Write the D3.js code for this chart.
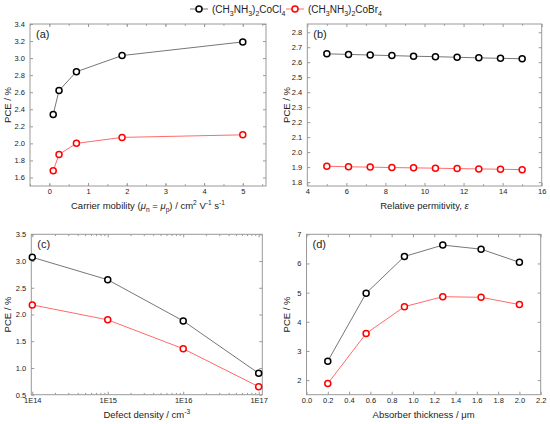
<!DOCTYPE html>
<html>
<head>
<meta charset="utf-8">
<script src="https://cdn.jsdelivr.net/npm/d3@7"></script>
<style>
  body { margin: 0; background: #fff; }
  text { font-family: "Liberation Sans", Arial, sans-serif; fill: #222; }
</style>
</head>
<body>
<div id="chart"></div>
<script>
// series names
const seriesNames = ["(CH3NH3)2CoCl4", "(CH3NH3)2CoBr4"];
const halides = ["Cl", "Br"];

// (a) carrier mobility
const mobility = [0.1, 0.25, 0.7, 1.88, 5];
const mobilityCl = [2.34, 2.62, 2.84, 3.03, 3.19];
const mobilityBr = [1.68, 1.87, 2.00, 2.07, 2.10];

// (b) relative permittivity
const permittivity = [5, 6.11, 7.22, 8.33, 9.44, 10.56, 11.67, 12.78, 13.89, 15];
const permittivityCl = [2.656, 2.652, 2.648, 2.644, 2.640, 2.637, 2.633, 2.629, 2.626, 2.623];
const permittivityBr = [1.906, 1.902, 1.900, 1.897, 1.895, 1.893, 1.890, 1.888, 1.886, 1.883];

// (c) defect density
const defect = [1e14, 1e15, 1e16, 1e17];
const defectCl = [3.07, 2.65, 1.88, 0.90];
const defectBr = [2.18, 1.90, 1.36, 0.65];
const defectTickLabels = ["1E14", "1E15", "1E16", "1E17"];

// (d) absorber thickness
const thickness = [0.2, 0.56, 0.92, 1.28, 1.64, 2.0];
const thicknessCl = [2.65, 4.98, 6.24, 6.63, 6.49, 6.04];
const thicknessBr = [1.88, 3.60, 4.52, 4.86, 4.84, 4.59];

const width = 550;
const height = 424;
const frameColor = "#999";
const lineColors = ["#777", "#ff6b6b"];
const markerColors = ["#000", "#ff0000"];

const svg = d3.select("#chart")
  .append("svg")
  .attr("width", width)
  .attr("height", height);

// draws text made of plain / sub / sup parts
function richText(g, parts, size) {
  let shift = 0;
  parts.forEach(p => {
    const s = p.sub ? 3 : p.sup ? -4 : 0;
    const ts = g.append("tspan")
      .attr("dy", s - shift)
      .style("font-size", (p.sub || p.sup) ? size * 0.7 + "px" : size + "px")
      .text(p.t);
    if (p.it) ts.style("font-style", "italic");
    shift = s;
  });
}

const panels = [
  {
    label: "(a)", x: [30, 266], y: [186, 24],
    xDomain: [-0.5, 5.6], yDomain: [1.5, 3.4],
    xTicks: d3.range(0, 6, 1), xMinor: d3.range(-0.5, 5.6, 0.5),
    yTicks: d3.range(1.6, 3.41, 0.2), yFmt: d3.format(".1f"), xFmt: d3.format("d"),
    xs: mobility, ys: [mobilityCl, mobilityBr],
    title: [{t: "Carrier mobility ("}, {t: "μ", it: true}, {t: "n", sub: true}, {t: " = "},
      {t: "μ", it: true}, {t: "p", sub: true}, {t: ") / cm"}, {t: "2", sup: true},
      {t: " V"}, {t: "-1", sup: true}, {t: " s"}, {t: "-1", sup: true}],
    ylabX: 8
  },
  {
    label: "(b)", x: [307.3, 541.7], y: [186, 24],
    xDomain: [4, 16], yDomain: [1.774, 2.855],
    xTicks: d3.range(4, 17, 2), xMinor: d3.range(5, 16, 2),
    yTicks: d3.range(1.8, 2.81, 0.1), yFmt: d3.format(".1f"), xFmt: d3.format("d"),
    xs: permittivity, ys: [permittivityCl, permittivityBr],
    title: [{t: "Relative permitivity, "}, {t: "ε", it: true}],
    ylabX: 287
  },
  {
    label: "(c)", x: [31.3, 262.3], y: [394.7, 234.3], log: true,
    xDomain: [Math.pow(10, 13.987), Math.pow(10, 17.048)], yDomain: [0.5, 3.5],
    xTicks: defect, yTicks: d3.range(0.5, 3.51, 0.5), yFmt: d3.format(".1f"),
    xFmt: d => defectTickLabels[defect.indexOf(d)],
    xs: defect, ys: [defectCl, defectBr],
    title: [{t: "Defect density / cm"}, {t: "-3", sup: true}],
    ylabX: 8
  },
  {
    label: "(d)", x: [306.5, 540.7], y: [394.7, 234.3],
    xDomain: [0, 2.2], yDomain: [1.5, 7],
    xTicks: d3.range(0, 2.21, 0.2), xMinor: [],
    yTicks: d3.range(2, 7.1, 1), yFmt: d3.format("d"), xFmt: d3.format(".1f"),
    xs: thickness, ys: [thicknessCl, thicknessBr],
    title: [{t: "Absorber thickness / μm"}],
    ylabX: 287
  }
];

panels.forEach(p => {
  const x = (p.log ? d3.scaleLog() : d3.scaleLinear()).domain(p.xDomain).range(p.x);
  const y = d3.scaleLinear().domain(p.yDomain).range(p.y);
  const g = svg.append("g");

  let minor = p.xMinor || [];
  if (p.log) {
    minor = [];
    for (let e = 14; e < 17; e++) for (let m = 2; m < 10; m++) minor.push(m * Math.pow(10, e));
  }

  // inward ticks, mirrored on all four sides
  const bottom = d3.axisBottom(x).tickValues(p.xTicks).tickSize(-3).tickFormat(p.xFmt).tickPadding(3);
  const top = d3.axisTop(x).tickValues(p.xTicks).tickSize(-3).tickFormat("");
  const left = d3.axisLeft(y).tickValues(p.yTicks).tickSize(-3).tickFormat(p.yFmt).tickPadding(5);
  const right = d3.axisRight(y).tickValues(p.yTicks).tickSize(-3).tickFormat("");
  const bottomMinor = d3.axisBottom(x).tickValues(minor).tickSize(-1.8).tickFormat("");
  const topMinor = d3.axisTop(x).tickValues(minor).tickSize(-1.8).tickFormat("");

  const axes = [
    [bottom, `translate(0,${p.y[0]})`], [bottomMinor, `translate(0,${p.y[0]})`],
    [top, `translate(0,${p.y[1]})`], [topMinor, `translate(0,${p.y[1]})`],
    [left, `translate(${p.x[0]},0)`], [right, `translate(${p.x[1]},0)`]
  ];
  axes.forEach(([ax, tr]) => {
    const a = g.append("g").attr("transform", tr).call(ax);
    a.select(".domain").remove();
    a.selectAll("line").attr("stroke", frameColor);
    a.selectAll("text").style("font-size", "7.5px").attr("fill", "#333");
  });

  g.append("rect")
    .attr("x", p.x[0]).attr("y", p.y[1])
    .attr("width", p.x[1] - p.x[0]).attr("height", p.y[0] - p.y[1])
    .attr("fill", "none").attr("stroke", frameColor).attr("stroke-width", 1);

  // series lines + open markers
  p.ys.forEach((vals, i) => {
    const pts = p.xs.map((xv, j) => [xv, vals[j]]);
    g.append("path")
      .datum(pts)
      .attr("fill", "none")
      .attr("stroke", lineColors[i])
      .attr("stroke-width", 1)
      .attr("d", d3.line().x(d => x(d[0])).y(d => y(d[1])));
    g.selectAll(".m" + i)
      .data(pts)
      .join("circle")
      .attr("class", "m" + i)
      .attr("cx", d => x(d[0]))
      .attr("cy", d => y(d[1]))
      .attr("r", 3)
      .attr("fill", "#fff")
      .attr("stroke", markerColors[i])
      .attr("stroke-width", 1.5);
  });

  g.append("text")
    .attr("x", p.x[0] + 6)
    .attr("y", p.y[1] + 14)
    .style("font-size", "11px")
    .text(p.label);

  const t = g.append("text")
    .attr("x", (p.x[0] + p.x[1]) / 2)
    .attr("y", p.y[0] + 23)
    .attr("text-anchor", "middle");
  richText(t, p.title, 9.5);

  g.append("text")
    .attr("transform", `translate(${p.ylabX},${(p.y[0] + p.y[1]) / 2}) rotate(-90)`)
    .attr("text-anchor", "middle")
    .attr("dy", "0.35em")
    .style("font-size", "9.5px")
    .text("PCE / %");
});

// legend
const legendX = [190, 286];
seriesNames.forEach((name, i) => {
  const lg = svg.append("g").attr("transform", `translate(${legendX[i]},9)`);
  lg.append("line").attr("x1", 0).attr("x2", 18).attr("stroke", lineColors[i]).attr("stroke-width", 1);
  lg.append("circle").attr("cx", 9).attr("r", 3).attr("fill", "#fff")
    .attr("stroke", markerColors[i]).attr("stroke-width", 1.5);
  const t = lg.append("text").attr("x", 22).attr("y", 3.5);
  richText(t, [{t: "(CH"}, {t: "3", sub: true}, {t: "NH"}, {t: "3", sub: true}, {t: ")"},
    {t: "2", sub: true}, {t: "Co" + halides[i]}, {t: "4", sub: true}], 10);
});
</script>
</body>
</html>
